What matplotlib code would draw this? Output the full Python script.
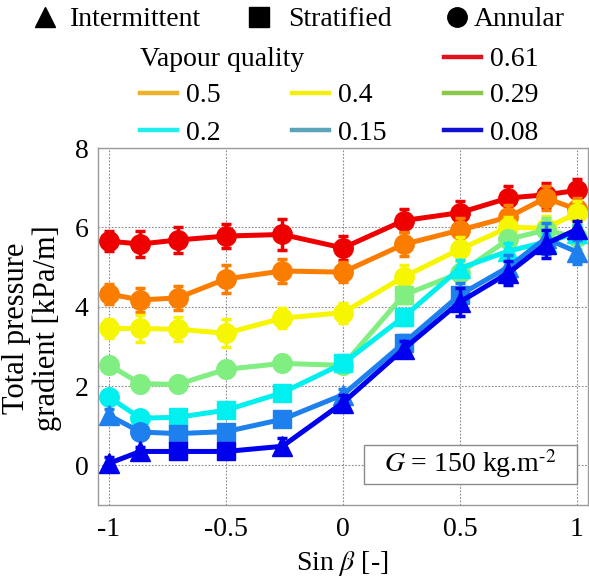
import matplotlib
matplotlib.use("Agg")
import matplotlib.pyplot as plt
from matplotlib.lines import Line2D
from matplotlib.patches import Rectangle

plt.rcParams['font.family'] = ['Liberation Serif', 'DejaVu Serif']
plt.rcParams['mathtext.fontset'] = 'stix'
plt.rcParams['axes.unicode_minus'] = False

# ---- data ----
sin_beta = [-1, -0.866, -0.707, -0.5, -0.259, 0, 0.259, 0.5, 0.707, 0.866, 1]

qualities = ['0.61', '0.5', '0.4', '0.29', '0.2', '0.15', '0.08']

q061 = [5.65, 5.58, 5.68, 5.78, 5.82, 5.48, 6.17, 6.37, 6.74, 6.82, 6.93]
q050 = [4.32, 4.17, 4.22, 4.70, 4.90, 4.87, 5.57, 5.93, 6.26, 6.74, 6.45]
q040 = [3.45, 3.45, 3.43, 3.33, 3.71, 3.85, 4.75, 5.45, 6.00, 5.98, 6.36]
q029 = [2.53, 2.06, 2.04, 2.42, 2.57, 2.52, 4.29, 4.85, 5.70, 5.93, 5.75]
q020 = [1.72, 1.19, 1.21, 1.39, 1.83, 2.57, 3.74, 4.97, 5.40, 5.63, 5.85]
q015 = [1.26, 0.84, 0.80, 0.85, 1.16, 1.78, 3.08, 4.30, 5.00, 5.72, 5.38]
q008 = [0.05, 0.35, 0.35, 0.35, 0.48, 1.58, 2.93, 4.12, 4.85, 5.58, 5.95]

e061 = [0.25, 0.33, 0.33, 0.30, 0.38, 0.30, 0.30, 0.30, 0.30, 0.30, 0.30]
e050 = [0.25, 0.30, 0.30, 0.35, 0.30, 0.25, 0.30, 0.30, 0.30, 0.30, 0.30]
e040 = [0.25, 0.35, 0.30, 0.35, 0.25, 0.25, 0.30, 0.30, 0.25, 0.30, 0.30]
e029 = [0.20, 0.20, 0.20, 0.20, 0.20, 0.20, 0.20, 0.20, 0.20, 0.30, 0.30]
e020 = [0.15, 0.15, 0.15, 0.15, 0.15, 0.20, 0.20, 0.20, 0.20, 0.20, 0.20]
e015 = [0.15, 0.10, 0.10, 0.10, 0.10, 0.15, 0.20, 0.30, 0.30, 0.40, 0.30]
e008 = [0.15, 0.10, 0.10, 0.10, 0.20, 0.20, 0.20, 0.35, 0.30, 0.35, 0.20]

# flow pattern per point: I = intermittent, S = stratified, A = annular
p061 = ['A'] * 11
p050 = ['A'] * 11
p040 = ['A'] * 11
p029 = ['A', 'A', 'A', 'A', 'A', 'A', 'S', 'A', 'A', 'A', 'A']
p020 = ['A', 'A', 'S', 'S', 'S', 'S', 'S', 'I', 'I', 'I', 'I']
p015 = ['I', 'A', 'S', 'S', 'S', 'I', 'S', 'S', 'I', 'I', 'I']
p008 = ['I', 'I', 'S', 'S', 'I', 'I', 'I', 'I', 'I', 'I', 'I']

values = [q061, q050, q040, q029, q020, q015, q008]
errors = [e061, e050, e040, e029, e020, e015, e008]
patterns = [p061, p050, p040, p029, p020, p015, p008]

plot_colors = ['#EE0000', '#FA7D00', '#F6F600', '#80EE80', '#00F0F0', '#1E80EC', '#0000EE']
legend_colors = ['#E0101C', '#EDB22A', '#F2EE10', '#8CC84C', '#22EEF0', '#5BA3B8', '#1010D0']
pattern_marker = {'I': '^', 'S': 's', 'A': 'o'}
pattern_names = [('I', 'Intermittent'), ('S', 'Stratified'), ('A', 'Annular')]

W, H = 589, 585
fig = plt.figure(figsize=(W / 100, H / 100), dpi=100)


def fx(px):
    return px / W


def fy(py):
    return 1 - py / H


ax = fig.add_axes([fx(98), fy(505), fx(588) - fx(98), fy(148) - fy(505)])

for i, (vals, errs, pats, col) in enumerate(zip(values, errors, patterns, plot_colors)):
    z = 3 + i
    ax.plot(sin_beta, vals, '-', color=col, lw=3.6, zorder=z)
    ax.errorbar(sin_beta, vals, yerr=errs, fmt='none', ecolor=col,
                elinewidth=2.5, capsize=3.8, capthick=2.5, zorder=z)
    for key, mk in pattern_marker.items():
        xs = [x for x, p in zip(sin_beta, pats) if p == key]
        ys = [v for v, p in zip(vals, pats) if p == key]
        if xs:
            ms = 14 if mk == 'o' else (15 if mk == '^' else 13)
            ax.plot(xs, ys, linestyle='none', marker=mk, ms=ms, color=col,
                    mec=col, zorder=z + 0.5)

ax.set_xlim(-1.047, 1.047)
ax.set_ylim(-1, 8)
ax.set_xticks([-1, -0.5, 0, 0.5, 1])
ax.set_xticklabels(['-1', '-0.5', '0', '0.5', '1'])
ax.set_yticks([0, 2, 4, 6, 8])
ax.set_yticklabels(['0', '2', '4', '6', '8'])
ax.tick_params(length=0, labelsize=20, colors='black')
ax.tick_params(axis='x', pad=9)
ax.tick_params(axis='y', pad=7)
ax.grid(True, linestyle=(0, (1.5, 1.5)), color='#8a8a8a', lw=0.8, zorder=0)
for s in ax.spines.values():
    s.set_color('#9a9a9a')
    s.set_linewidth(1.0)

# G box
box = Rectangle(((364 - 98) / 490, (505 - 484) / 357),
                (577 - 364) / 490, (484 - 445) / 357,
                transform=ax.transAxes, facecolor='white', edgecolor='#8a8a8a',
                lw=1.0, zorder=20)
ax.add_patch(box)
ax.text((470 - 98) / 490, (505 - 464) / 357, r'$G$ = 150 kg.m$^{\text{-2}}$',
        transform=ax.transAxes, ha='center', va='center', fontsize=20, zorder=21)

# axis labels
fig.text(fx(342), fy(563), r'Sin $\beta$ [-]', ha='center', va='center', fontsize=20)
fig.text(fx(32), fy(328), 'Total pressure\ngradient [kPa/m]', rotation=90,
         ha='center', va='center', fontsize=22, multialignment='center',
         linespacing=1.05)

# legend: flow patterns
row1_y = 17
for (key, name), mx, tx in zip(pattern_names, [45, 259, 457], [70, 288, 474]):
    fig.add_artist(Line2D([fx(mx)], [fy(row1_y)], marker=pattern_marker[key],
                          ms=15 if key == 'I' else 14, color='black',
                          linestyle='none', transform=fig.transFigure))
    fig.text(fx(tx), fy(row1_y), name, ha='left', va='center_baseline', fontsize=20)

# legend: vapour quality
fig.text(fx(140), fy(57), 'Vapour quality', ha='left', va='center_baseline', fontsize=20)
slots = [(444, 57), (140, 93), (292, 93), (444, 93), (140, 130), (292, 130), (444, 130)]
for (lx, ly), lab, col in zip(slots, qualities, legend_colors):
    fig.add_artist(Line2D([fx(lx), fx(lx + 37)], [fy(ly), fy(ly)], color=col, lw=3.2,
                          transform=fig.transFigure))
    fig.text(fx(lx + 46), fy(ly), lab, ha='left', va='center_baseline', fontsize=20)

fig.savefig('out.png', dpi=100)
